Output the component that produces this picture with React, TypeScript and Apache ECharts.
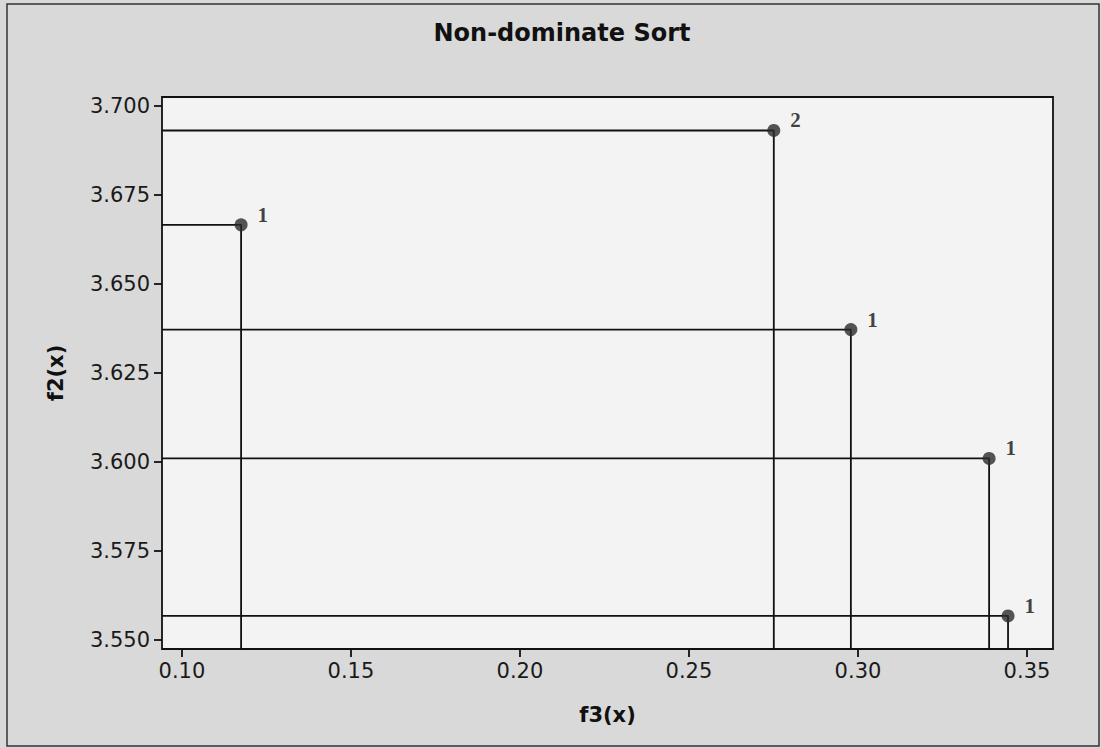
import React, { useEffect, useRef } from "react";
import * as echarts from "echarts";

const f3Values = [0.1175, 0.2751, 0.2979, 0.3388, 0.3444];
const f2Values = [3.6666, 3.6931, 3.6372, 3.6010, 3.5568];
const ranks = ["1", "2", "1", "1", "1"];
const xTicks = [0.1, 0.15, 0.2, 0.25, 0.3, 0.35];
const yTicks = [3.55, 3.575, 3.6, 3.625, 3.65, 3.675, 3.7];

const X_MIN = 0.0941;
const X_MAX = 0.3577;
const Y_MIN = 3.5475;
const Y_MAX = 3.7025;

export default function App() {
  const ref = useRef<HTMLDivElement>(null);
  useEffect(() => {
    if (!ref.current) return;
    const chart = echarts.init(ref.current, undefined, { renderer: "svg" });
    const lineSeries = f3Values.map((x, i) => ({
      type: "line",
      data: [
        [X_MIN, f2Values[i]],
        [x, f2Values[i]],
        [x, Y_MIN],
      ],
      symbol: "none",
      lineStyle: { color: "#111", width: 1.8 },
      silent: true,
      z: 2,
    }));
    const tickFont = { fontFamily: "DejaVu Sans", fontSize: 21, color: "#1a1a1a" };
    chart.setOption({
      animation: false,
      backgroundColor: "#d9d9d9",
      title: {
        text: "Non-dominate Sort",
        left: 557,
        top: 16,
        textAlign: "center",
        textStyle: { fontFamily: "DejaVu Sans", fontWeight: "bold", fontSize: 24, color: "#111" },
      },
      graphic: [
        {
          type: "rect",
          shape: { x: 7, y: 4, width: 1092, height: 742 },
          style: { fill: "none", stroke: "#333", lineWidth: 1.5 },
          silent: true,
        },
      ],
      grid: {
        left: 162,
        top: 97,
        right: 48,
        bottom: 99,
        show: true,
        backgroundColor: "#f3f3f3",
        borderColor: "#111",
        borderWidth: 1.8,
      },
      xAxis: {
        type: "value",
        min: X_MIN,
        max: X_MAX,
        name: "f3(x)",
        nameLocation: "middle",
        nameGap: 55,
        nameTextStyle: { fontFamily: "DejaVu Sans", fontWeight: "bold", fontSize: 21, color: "#111" },
        splitLine: { show: false },
        axisLine: { show: false },
        axisTick: { show: true, length: 8, lineStyle: { color: "#111", width: 1.8 }, customValues: xTicks },
        axisLabel: { ...tickFont, margin: 11, customValues: xTicks, formatter: (v: number) => v.toFixed(2) },
      },
      yAxis: {
        type: "value",
        min: Y_MIN,
        max: Y_MAX,
        name: "f2(x)",
        nameLocation: "middle",
        nameGap: 96,
        nameTextStyle: { fontFamily: "DejaVu Sans", fontWeight: "bold", fontSize: 21, color: "#111" },
        splitLine: { show: false },
        axisLine: { show: false },
        axisTick: { show: true, length: 8, lineStyle: { color: "#111", width: 1.8 }, customValues: yTicks },
        axisLabel: { ...tickFont, margin: 12, customValues: yTicks, formatter: (v: number) => v.toFixed(3) },
      },
      series: [
        ...lineSeries,
        {
          type: "scatter",
          data: f3Values.map((x, i) => ({ value: [x, f2Values[i]], label: { formatter: ranks[i] } })),
          symbol: "circle",
          symbolSize: 13,
          itemStyle: { color: "#2a2a2a" },
          z: 5,
          label: {
            show: true,
            position: "right",
            offset: [5, -10],
            fontFamily: "Liberation Serif",
            fontWeight: "bold",
            fontSize: 21,
            color: "#111",
          },
        },
      ],
    });
    return () => chart.dispose();
  }, []);
  return <div ref={ref} style={{ position: "fixed", left: 0, top: 0, width: 1101, height: 748 }} />;
}
